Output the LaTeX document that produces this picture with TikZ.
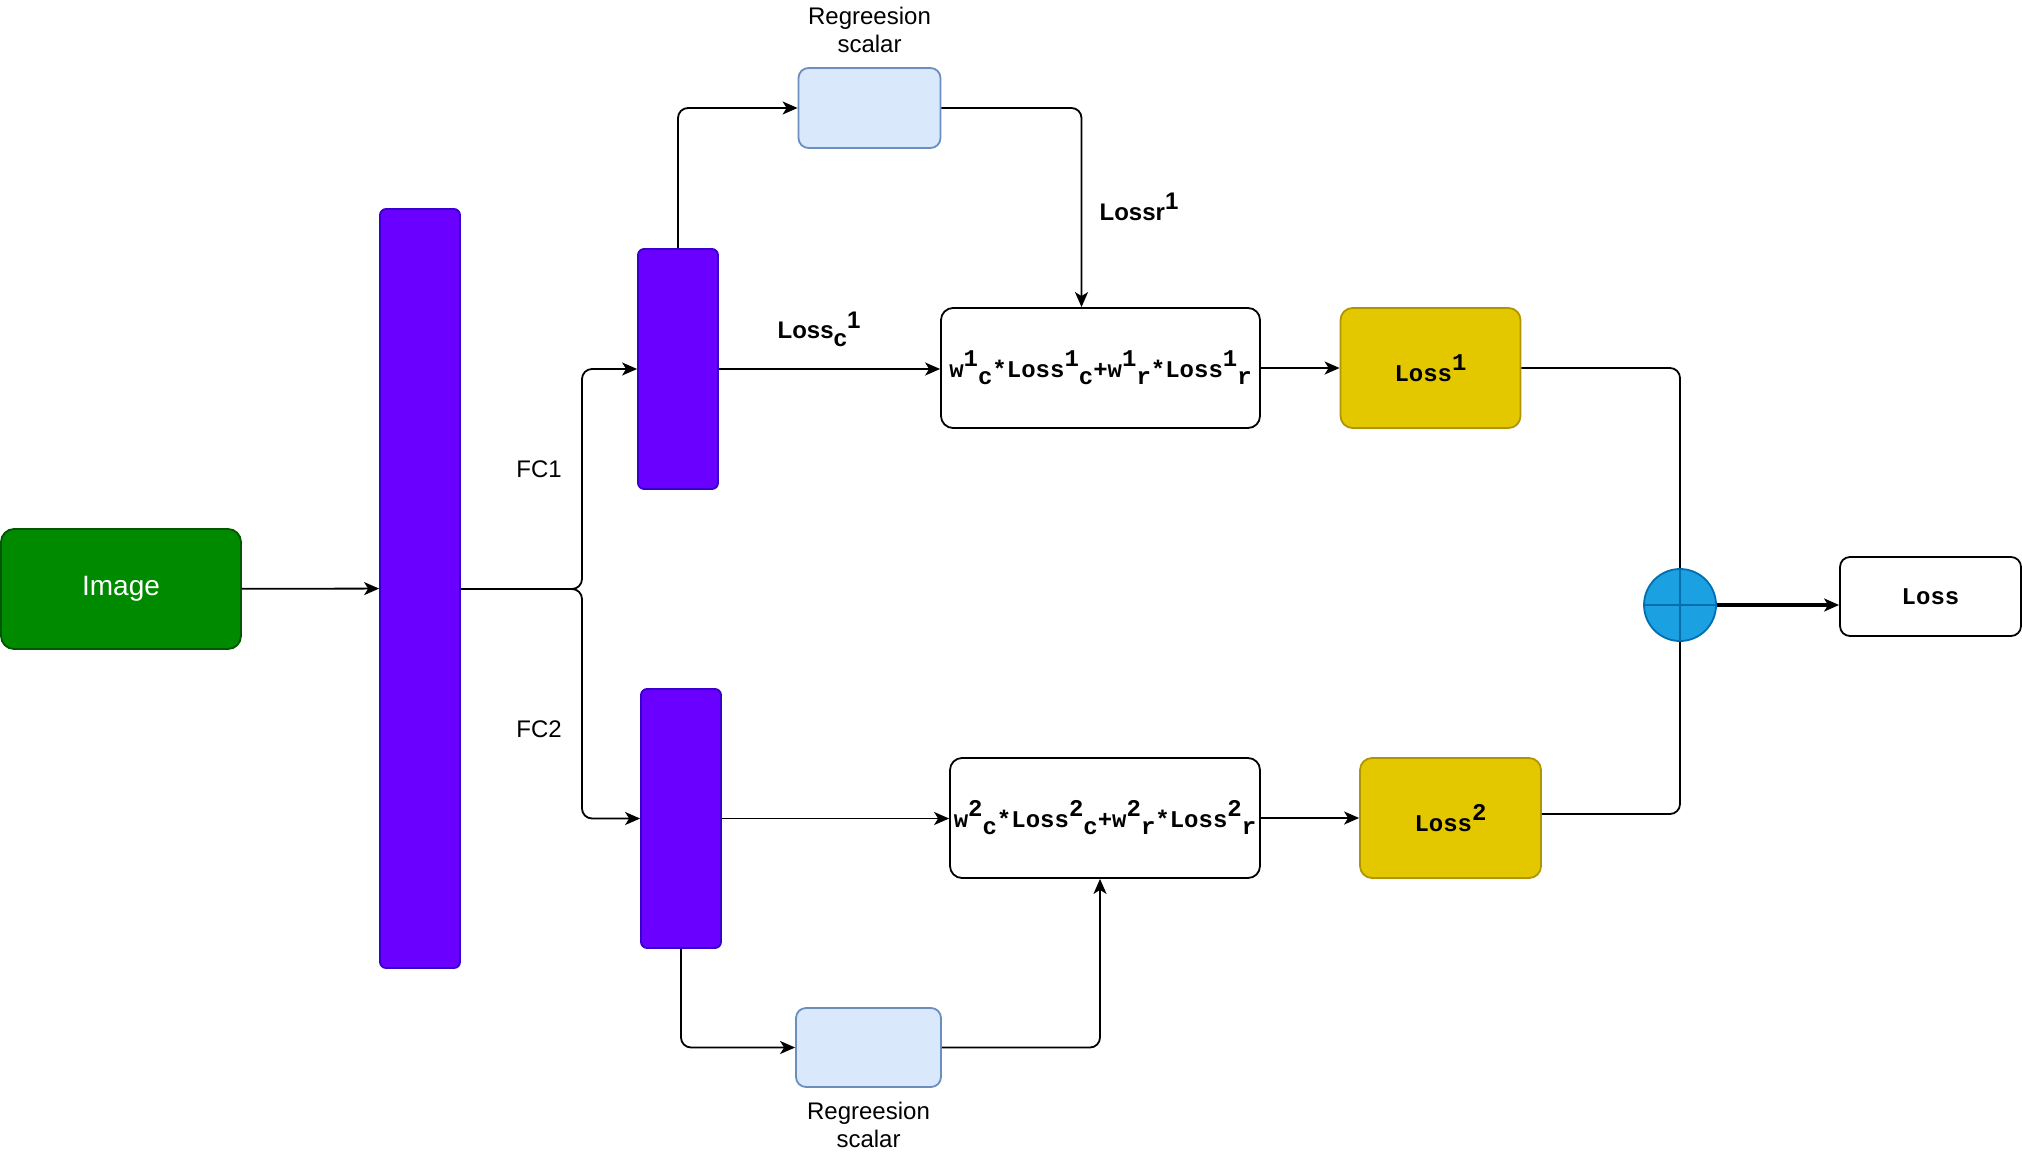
\documentclass[tikz,border=0pt]{standalone}
\usepackage{fontspec}
\setmainfont{Liberation Sans}
\setmonofont{Liberation Mono}
\usetikzlibrary{positioning, arrows.meta}

% raised and lowered indices, same size as the text
\newcommand{\upix}[1]{\raisebox{0.45em}{#1}}
\newcommand{\dnix}[1]{\raisebox{-0.3em}{#1}}

\definecolor{imggreen}{HTML}{008A00}
\definecolor{imgdark}{HTML}{005700}
\definecolor{fcpurple}{HTML}{6A00FF}
\definecolor{fcdark}{HTML}{3700CC}
\definecolor{regblue}{HTML}{DAE8FC}
\definecolor{regdark}{HTML}{6C8EBF}
\definecolor{lossyellow}{HTML}{E3C800}
\definecolor{lossdark}{HTML}{B09500}
\definecolor{sumblue}{HTML}{1BA1E2}
\definecolor{sumdark}{HTML}{006EAF}

\tikzset{
  every node/.style={font=\fontsize{12}{14}\selectfont},
  imagebox/.style={draw=imgdark, fill=imggreen, rounded corners=6.5pt, line width=0.9pt,
    minimum width=120pt, minimum height=60pt, text=white, font=\fontsize{14}{16}\selectfont},
  fcbar/.style={draw=fcdark, fill=fcpurple, rounded corners=3pt, line width=0.9pt, minimum width=40pt},
  regbox/.style={draw=regdark, fill=regblue, rounded corners=5pt, line width=0.9pt,
    minimum width=71pt, minimum height=40pt},
  formbox/.style={draw, rounded corners=6pt, line width=0.9pt, minimum height=60pt,
    inner sep=0pt, font=\fontsize{12}{14}\selectfont\ttfamily\bfseries},
  lossbox/.style={draw=lossdark, fill=lossyellow, rounded corners=6pt, line width=0.9pt,
    minimum width=90pt, minimum height=60pt, font=\fontsize{12}{14}\selectfont\ttfamily\bfseries},
  outbox/.style={draw, rounded corners=5pt, line width=0.9pt, minimum width=90.5pt,
    minimum height=39.5pt, font=\fontsize{12}{14}\selectfont\ttfamily\bfseries},
  sumnode/.style={circle, draw=sumdark, fill=sumblue, line width=0.9pt, minimum size=36pt,
    inner sep=0pt, path picture={
      \draw[sumdark, line width=0.9pt] (path picture bounding box.north) -- (path picture bounding box.south);
      \draw[sumdark, line width=0.9pt] (path picture bounding box.west) -- (path picture bounding box.east);}},
  lbl/.style={align=center, inner sep=0pt},
  boldlbl/.style={inner sep=0pt, font=\fontsize{12}{14}\selectfont\bfseries},
  arr/.style={-{Stealth[length=7.5pt, width=6.5pt, inset=2pt]}, line width=0.9pt, rounded corners=5pt},
  link/.style={line width=0.9pt, rounded corners=5pt}
}

\begin{document}
\begin{tikzpicture}[x=0.5pt, y=-0.5pt]
    \useasboundingbox (0,0) rectangle (2022,1156);

    % Input and backbone
    \node[imagebox] (img) at (121, 589) {Image};
    \node[fcbar, minimum height=379.5pt] (bar) at (420, 588.5) {};

    % Two heads
    \node[fcbar, minimum height=120pt] (fc1) at (678, 369) {};
    \node[fcbar, minimum height=129.5pt] (fc2) at (681, 818.5) {};
    \coordinate (split) at (582, 589);

    % Regression scalars
    \node[regbox] (regtop) at (869.5, 108) {};
    \node[regbox, minimum width=72.5pt, minimum height=39.5pt] (regbot) at (868.5, 1047.5) {};
    \node[lbl, above=7pt of regtop] (regtoptxt) {Regreesion\\scalar};
    \node[lbl, below=7pt of regbot] (regbottxt) {Regreesion\\scalar};

    % Weighted losses
    \node[formbox, minimum width=159.5pt] (form1) at (1100.5, 368)
      {w\upix{1}\dnix{c}*Loss\upix{1}\dnix{c}+w\upix{1}\dnix{r}*Loss\upix{1}\dnix{r}};
    \node[formbox, minimum width=155pt] (form2) at (1105, 818)
      {w\upix{2}\dnix{c}*Loss\upix{2}\dnix{c}+w\upix{2}\dnix{r}*Loss\upix{2}\dnix{r}};
    \node[lossbox] (loss1) at (1430.5, 368) {Loss\upix{1}};
    \node[lossbox, minimum width=90.5pt] (loss2) at (1450.5, 818) {Loss\upix{2}};

    % Sum and output
    \node[sumnode] (sum) at (1680, 605) {};
    \node[outbox] (out) at (1930.5, 596.5) {Loss};

    % Labels
    \node[boldlbl] (lossr) at (1139, 207) {Lossr\upix{1}};
    \node[boldlbl] (lossc) at (819, 329) {Loss\dnix{c}\upix{1}};
    \node[lbl] (fc1txt) at (539, 469) {FC1};
    \node[lbl] (fc2txt) at (539, 729) {FC2};

    % Connectors
    \draw[arr] (img) -- (bar);
    \draw[arr] (bar.east |- split) -- (split) |- (fc1.west);
    \draw[arr] (bar.east |- split) -- (split) |- (fc2.west);
    \draw[arr] (fc1.north) |- (regtop.west);
    \draw[arr] (regtop.east) -| ([xshift=-9.5pt]form1.north);
    \draw[arr] (fc1.east) -- (fc1.east -| form1.west);
    \draw[arr] (fc2.south) |- (regbot.west);
    \draw[arr] (regbot.east) -| ([xshift=-2.5pt]form2.south);
    \draw[arr] (fc2.east) -- (fc2.east -| form2.west);
    \draw[arr] (form1.east) -- (loss1.west);
    \draw[arr] (form2.east) -- (loss2.west);
    \draw[link] (loss1.east) -| (sum.north);
    \draw[link] ([yshift=2pt]loss2.east) -| (sum.south);
    \draw[arr, line width=1.6pt] (sum.east) -- (sum.east -| out.west);
\end{tikzpicture}
\end{document}
